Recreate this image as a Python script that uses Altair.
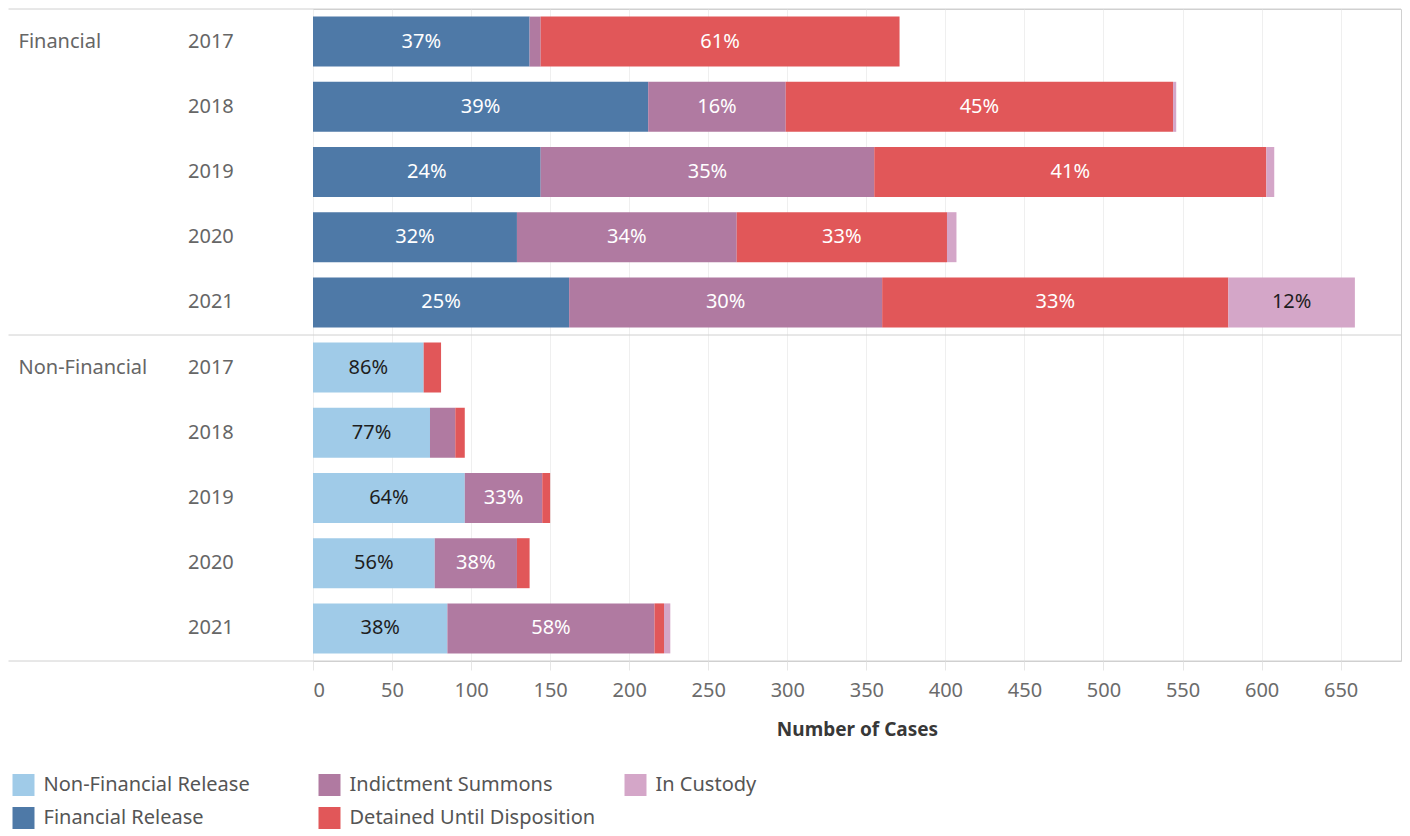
import altair as alt
import pandas as pd

groups = ["Financial", "Non-Financial"]
years = ["2017", "2018", "2019", "2020", "2021"]
categories = ["Non-Financial Release", "Indictment Summons", "In Custody",
              "Financial Release", "Detained Until Disposition"]
colors = ["#a0cbe8", "#b07aa1", "#d4a6c8", "#4e79a7", "#e15759"]

# Financial group
fin_release = [137, 212, 144, 129, 162]
fin_indictment = [7, 87, 211, 139, 198]
fin_detained = [227, 245, 248, 133, 219]
fin_custody = [0, 2, 5, 6, 80]
# Non-Financial group
nonfin_release = [70, 74, 96, 77, 85]
nonfin_indictment = [0, 16, 49, 52, 131]
nonfin_detained = [11, 6, 5, 8, 6]
nonfin_custody = [0, 0, 0, 0, 4]

x_ticks = list(range(0, 651, 50))

W, H = 1088, 652
x_max = W / 1.581
FONT = "Noto Sans"
LINE = "#d0d0d0"

series = {
    "Financial": [("Financial Release", fin_release), ("Indictment Summons", fin_indictment),
                  ("Detained Until Disposition", fin_detained), ("In Custody", fin_custody)],
    "Non-Financial": [("Non-Financial Release", nonfin_release), ("Indictment Summons", nonfin_indictment),
                      ("Detained Until Disposition", nonfin_detained), ("In Custody", nonfin_custody)],
}

rows = []
keys = []
for g in groups:
    for i, y in enumerate(years):
        key = f"{g}|{y}"
        keys.append(key)
        for order, (cat, vals) in enumerate(series[g]):
            if vals[i] > 0:
                rows.append({"group": g, "year": y, "key": key, "category": cat,
                             "value": vals[i], "order": order})
df = pd.DataFrame(rows)

group_df = pd.DataFrame({"group": groups, "key": [f"{g}|{years[0]}" for g in groups]})
last_df = pd.DataFrame({"key": [keys[-1]]})

yscale = alt.Scale(domain=keys, paddingInner=0, paddingOuter=0)
xscale = alt.Scale(domain=[0, x_max], nice=False, zero=True)

base = (
    alt.Chart(df)
    .transform_joinaggregate(total="sum(value)", groupby=["key"])
    .transform_stack(stack="value", groupby=["key"], sort=[alt.SortField("order")], as_=["x0", "x1"])
    .transform_calculate(mid="(datum.x0 + datum.x1) / 2", pct="datum.value / datum.total")
)

bars = base.mark_bar(size=50).encode(
    y=alt.Y("key:N", scale=yscale, title=None,
            axis=alt.Axis(labelExpr="split(datum.label, '|')[1]", labelAlign="left",
                          labelPadding=125.5, ticks=False, tickSize=0, domain=False, grid=False,
                          labelFontSize=20, labelColor="#666666", labelFont=FONT)),
    x=alt.X("x0:Q", scale=xscale, title="Number of Cases",
            axis=alt.Axis(values=x_ticks, grid=True, gridColor="#efefef", domain=False,
                          tickColor="#e6e6e6", tickSize=9, labelPadding=10.5, labelFlush=True,
                          labelFontSize=20, labelColor="#6b6b6b", labelFont=FONT,
                          titleFontSize=19, titleFont=FONT, titleFontWeight="bold",
                          titleColor="#383838", titlePadding=20)),
    x2="x1:Q",
    color=alt.Color("category:N", scale=alt.Scale(domain=categories, range=colors),
                    legend=alt.Legend(title=None, orient="none", legendX=-300.5, legendY=765,
                                      columns=3, direction="horizontal", symbolType="square",
                                      symbolSize=484, symbolStrokeWidth=0, labelFontSize=20,
                                      labelFont=FONT, labelColor="#555555", labelOffset=9,
                                      rowPadding=11, columnPadding=29, gridAlign="all",
                                      labelLimit=400)),
)

labels = base.transform_filter("datum.value >= 30").mark_text(font=FONT, fontSize=20).encode(
    y=alt.Y("key:N", scale=yscale),
    x=alt.X("mid:Q", scale=xscale),
    text=alt.Text("pct:Q", format=".0%"),
    color=alt.condition(
        alt.FieldOneOfPredicate(field="category", oneOf=["Non-Financial Release", "In Custody"]),
        alt.value("#1e1e1e"), alt.value("#ffffff")),
)

group_text = alt.Chart(group_df).mark_text(font=FONT, fontSize=20, align="left", color="#666666").encode(
    y=alt.Y("key:N", scale=yscale),
    x=alt.value(-294.5),
    text="group:N",
)

sep_rules = alt.Chart(group_df).mark_rule(color=LINE, strokeWidth=1).encode(
    y=alt.Y("key:N", scale=yscale, bandPosition=0),
    x=alt.value(-304.5),
    x2=alt.value(W),
)

bottom_rule = alt.Chart(last_df).mark_rule(color=LINE, strokeWidth=1).encode(
    y=alt.Y("key:N", scale=yscale, bandPosition=1),
    x=alt.value(-304.5),
    x2=alt.value(W),
)

chart = (
    alt.layer(bars, labels, group_text, sep_rules, bottom_rule)
    .properties(width=W, height=H, padding=0)
    .configure(font=FONT)
    .configure_view(stroke=LINE, strokeWidth=1)
)

chart.save("out.html", embed_options={"renderer": "svg", "actions": False})
